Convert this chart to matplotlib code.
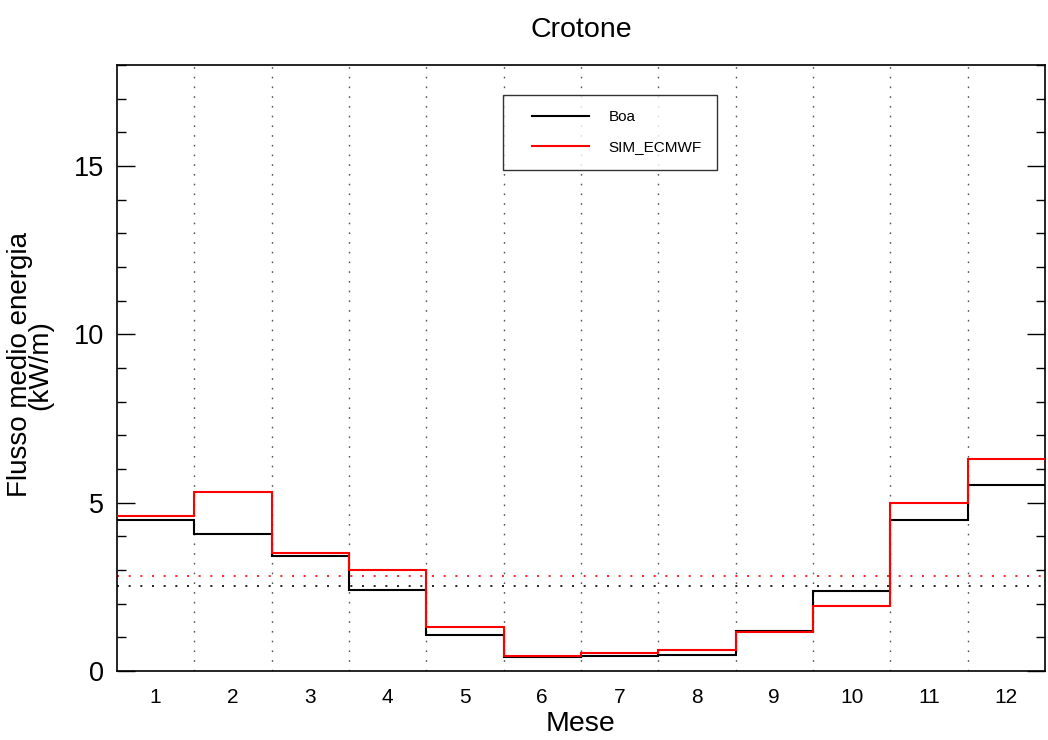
import numpy as np
import matplotlib
matplotlib.use("Agg")
import matplotlib.pyplot as plt
from matplotlib.lines import Line2D
from matplotlib.legend_handler import HandlerLine2D

plt.rcParams['font.family'] = ['Liberation Sans', 'DejaVu Sans']

mesi = np.arange(1, 13)
boa = [4.49, 4.08, 3.42, 2.41, 1.06, 0.42, 0.45, 0.47, 1.20, 2.37, 4.48, 5.54]
sim_ecmwf = [4.61, 5.32, 3.52, 3.01, 1.30, 0.46, 0.54, 0.63, 1.15, 1.94, 5.00, 6.30]

fig = plt.figure(figsize=(10.48, 7.40), dpi=100)
ax = fig.add_axes([0.1116, 0.0932, 0.8855, 0.819])

kanten = np.arange(0.5, 13.5, 1.0)

# Trennlinien zwischen den Monaten
for xk in kanten[1:-1]:
    ax.axvline(xk, color='#555555', lw=1.0, linestyle=(0, (1.2, 5.8)), zorder=1)

# Mittelwerte
ax.axhline(np.mean(sim_ecmwf), color='red', lw=1.2, linestyle=(0, (1.2, 5.8)), zorder=2)
ax.axhline(np.mean(boa), color='black', lw=1.2, linestyle=(0, (1.2, 5.8)), zorder=2)

ax.stairs(boa, kanten, baseline=None, color='black', lw=1.5, zorder=3)
ax.stairs(sim_ecmwf, kanten, baseline=None, color='red', lw=1.5, zorder=4)

ax.set_xlim(0.5, 12.5)
ax.set_ylim(0, 18)

ax.set_xticks(mesi)
ax.set_xticklabels([str(m) for m in mesi], fontsize=15)
ax.tick_params(axis='x', length=0, pad=12)

ax.set_yticks([0, 5, 10, 15])
ax.set_yticks(np.arange(0, 19, 1), minor=True)
ax.tick_params(axis='y', which='major', direction='in', length=13, width=1,
               labelsize=19.5, right=True, pad=9)
ax.tick_params(axis='y', which='minor', direction='in', length=6.5, width=1, right=True)

for sp in ax.spines.values():
    sp.set_linewidth(1.2)

ax.set_title('Crotone', fontsize=20.5, pad=20)
ax.set_xlabel('Mese', fontsize=20.5, labelpad=3)
ax.set_ylabel('Flusso medio energia\n(kW/m)', fontsize=20, linespacing=0.68)
ax.yaxis.set_label_coords(-0.069, 0.505)

griffe = [Line2D([], [], color='black', lw=1.5),
          Line2D([], [], color='red', lw=1.5)]
leg = ax.legend(griffe, ['Boa', 'SIM_ECMWF'], loc='upper left',
                bbox_to_anchor=(0.416, 0.9505), fontsize=11,
                frameon=True, fancybox=False, edgecolor='black', handlelength=4.64,
                handletextpad=1.25, borderpad=1.0, labelspacing=1.05, borderaxespad=0,
                handler_map={Line2D: HandlerLine2D(xpad=0.92)})
leg.get_frame().set_linewidth(1.0)

fig.savefig('out.png', dpi=100)
